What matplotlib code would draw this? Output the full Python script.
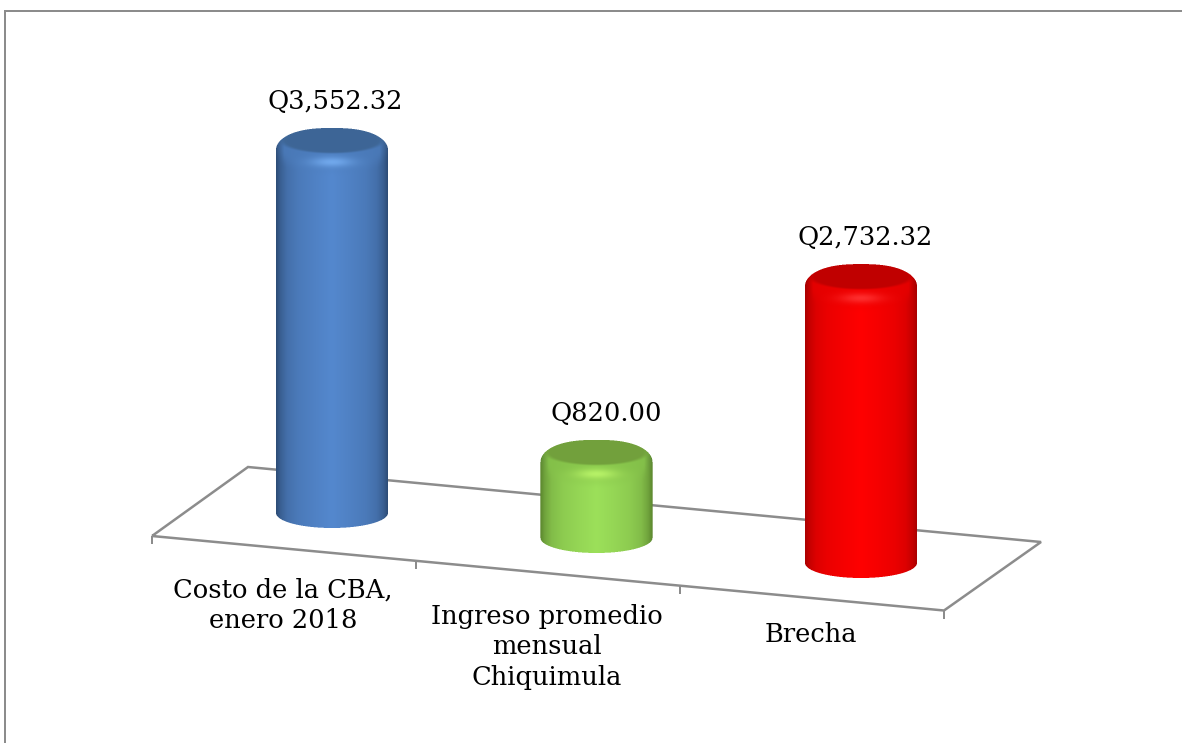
import numpy as np
import matplotlib
matplotlib.use("Agg")
import matplotlib.pyplot as plt

categories = ["Costo de la CBA,\nenero 2018", "Ingreso promedio\nmensual\nChiquimula", "Brecha"]
values = [3552.32, 820.00, 2732.32]
value_labels = ["Q3,552.32", "Q820.00", "Q2,732.32"]

W, H = 1182, 743
plt.rcParams['font.family'] = ['DejaVu Serif']
fig = plt.figure(figsize=(W / 100, H / 100), dpi=100)
ax = fig.add_axes([0, 0, 1, 1])
ax.axis('off')

# scales: category -> px x, value -> px y (with the chart's oblique shear per category)
X0, DX = 332.0, 264.5
Y0, SHEAR, PXV, V0 = 513.0, 25.0, 0.105, 95.0
ax.set_xlim((0 - X0) / DX, (W - X0) / DX)
ax.set_ylim(V0 - (H - Y0) / PXV, V0 + Y0 / PXV)


def P(px, py):
    """Figure pixel (from top-left) to data coordinates."""
    return (px - X0) / DX, V0 + (Y0 - py) / PXV


GRAY = '#8c8c8c'


def seg(pts, lw=1.5, z=1):
    d = [P(*p) for p in pts]
    ax.plot([a for a, _ in d], [b for _, b in d], color=GRAY, lw=lw * 0.72,
            solid_capstyle='butt', solid_joinstyle='miter', zorder=z, clip_on=False)


# outer frame
seg([(5.5, H), (5.5, 10.5), (W, 10.5)], lw=2.0)
# floor
fl, bl, br, fr = (152, 536), (248, 467), (1041, 542), (944, 610.5)
seg([fl, bl, br, fr, fl], lw=2.5)
for t in range(4):
    f = t / 3
    tx, ty = fl[0] + (fr[0] - fl[0]) * f, fl[1] + (fr[1] - fl[1]) * f
    seg([(tx, ty), (tx, ty + 8)], lw=2.0)

palette = [
    dict(c=(84, 136, 206), e=(42, 72, 112), cap=(62, 102, 150), hi=(116, 172, 240), bev=(78, 128, 194)),
    dict(c=(156, 224, 90), e=(88, 130, 44), cap=(114, 160, 60), hi=(186, 245, 105), bev=(140, 204, 78)),
    dict(c=(255, 0, 0), e=(165, 0, 0), cap=(192, 0, 0), hi=(255, 50, 50), bev=(242, 0, 0)),
]


def sstep(x):
    t = np.clip(x, 0, 1)
    return t * t * (3 - 2 * t)


RX, RY_TOP, RY_BOT = 56.0, 22.0, 15.0
cats = np.arange(len(values))
vals = np.array(values)
bottoms = V0 - SHEAR / PXV * cats
tops = vals - SHEAR / PXV * cats
ax.bar(cats, tops - bottoms, bottom=bottoms, width=2 * (RX - 1) / DX,
       color=['#2a4870', '#58822c', '#a50000'], linewidth=0, zorder=2)

for i, v in enumerate(values):
    cx = X0 + DX * i
    yb = Y0 + SHEAR * i
    yt = yb - PXV * (v - V0)
    p = palette[i]
    ss = 3
    x0, x1 = int(cx - RX - 3), int(cx + RX + 3)
    y0, y1 = int(yt - RY_TOP - 3), int(yb + RY_BOT + 3)
    xs = x0 + (np.arange((x1 - x0) * ss) + .5) / ss
    ys = y0 + (np.arange((y1 - y0) * ss) + .5) / ss
    X, Y = np.meshgrid(xs, ys)
    u = (X - cx) / RX
    c, e, cap, hi, bev = [np.array(p[k], float) / 255 for k in ('c', 'e', 'cap', 'hi', 'bev')]

    # horizontal body shading
    au = np.abs(u)
    m = np.interp(au, [0, .3, .6, .8, .92, 1.0], [1, .9, .78, .62, .36, .05])
    img = e[None, None] + (c - e)[None, None] * m[..., None]

    # bevel ring follows the front rim of the top ellipse
    rim = yt + (RY_TOP - 2) * np.sqrt(np.clip(1 - au ** 2, 0, 1))
    ring = sstep((rim + 8 - Y) / 18)[..., None]
    bevc = bev[None, None] * np.interp(au, [0, .85, 1], [1, .94, .66])[..., None]
    img = img * (1 - ring) + bevc * ring

    # highlight below the inner cap
    g = 0.9 * np.exp(-((X - cx) / 21) ** 2 - ((Y - (yt + 12)) / 5.0) ** 2)
    img = img * (1 - g[..., None]) + hi[None, None] * g[..., None]

    # inner dark cap
    d = np.sqrt(((X - cx) / 51.0) ** 2 + ((Y - (yt - 10)) / 13.0) ** 2)
    k = sstep((1.1 - d) / 0.2)
    img = img * (1 - k[..., None]) + cap[None, None] * k[..., None]

    # silhouette alpha (rounded shoulders at the top)
    top_curve = yt - RY_TOP * np.power(np.clip(1 - au ** 2.5, 0, 1), 0.5)
    bot_curve = yb + RY_BOT * np.sqrt(np.clip(1 - au ** 2, 0, 1))
    a = (au <= 1) & (Y >= top_curve) & (Y <= bot_curve)
    rgba = np.dstack([np.clip(img, 0, 1), a.astype(float)])

    # box-filter downsample
    hh, ww = rgba.shape[:2]
    prem = rgba.copy()
    prem[..., :3] *= prem[..., 3:4]
    prem = prem.reshape(hh // ss, ss, ww // ss, ss, 4).mean(axis=(1, 3))
    al = np.maximum(prem[..., 3:4], 1e-6)
    prem[..., :3] /= al
    xa, ya = P(x0, y1)
    xb, yb2 = P(x1, y0)
    ax.imshow(prem, extent=(xa, xb, ya, yb2), origin='upper', aspect='auto',
              interpolation='nearest', zorder=3)

ax.set_xlim((0 - X0) / DX, (W - X0) / DX)
ax.set_ylim(V0 - (H - Y0) / PXV, V0 + Y0 / PXV)

FS = 18.5
label_dx = [3, 10, 4]
for i, (v, s) in enumerate(zip(values, value_labels)):
    cx = X0 + DX * i + label_dx[i]
    yt = Y0 + SHEAR * i - PXV * (v - V0)
    ax.text(*P(cx, yt - 48.5), s, ha='center', va='center', fontsize=FS, color='black', zorder=5)

cat_y = [605, 647, 635]
for i, s in enumerate(categories):
    ax.text(*P(283 + 264 * i, cat_y[i]), s, ha='center', va='center', fontsize=FS, color='black',
            linespacing=1.28, zorder=5)

fig.savefig('out.png', dpi=100, facecolor='white')
